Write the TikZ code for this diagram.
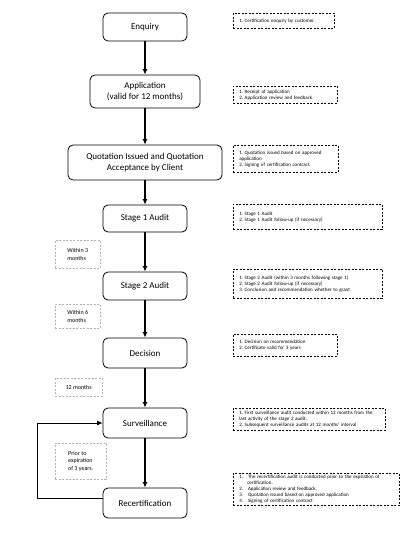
\documentclass[tikz,border=0pt]{standalone}
\usepackage{fontspec}
\setmainfont{Carlito}
\usetikzlibrary{arrows.meta,positioning}

\begin{document}
\begin{tikzpicture}[x=1pt,y=-1pt,>={Latex[length=5.5pt,width=5pt]},
  stage/.style={draw,rounded corners=5pt,line width=0.8pt,align=center,minimum width=84pt,minimum height=28pt,inner sep=1pt,font=\fontsize{9}{11}\selectfont},
  note/.style={draw,dash pattern=on 2pt off 1.5pt,line width=0.5pt,anchor=north west,align=left,inner xsep=6pt,inner ysep=2pt,font=\fontsize{5}{6}\selectfont},
  gap/.style={draw=gray!60,dash pattern=on 2pt off 1.5pt,line width=0.4pt,anchor=north west,align=left,inner sep=2pt,font=\fontsize{6}{7.5}\selectfont},
  flow/.style={->,line width=1.1pt}]
\useasboundingbox (0,0) rectangle (416,534);
% process steps
\node[stage] (enquiry) at (145,27) {Enquiry};
\node[stage,minimum width=110pt,minimum height=33pt] (application) at (145,91.5) {Application\\(valid for 12 months)};
\node[stage,minimum width=154pt,minimum height=35pt] (quotation) at (145,162.5) {Quotation Issued and Quotation\\Acceptance by Client};
\node[stage,minimum height=27pt] (stage1) at (145,218.5) {Stage 1 Audit};
\node[stage] (stage2) at (145,286) {Stage 2 Audit};
\node[stage,minimum height=30pt] (decision) at (145,353) {Decision};
\node[stage,minimum height=30pt] (surveillance) at (145,423) {Surveillance};
\node[stage,minimum height=30pt] (recert) at (145,503) {Recertification};
% notes on the right
\node[note,text width=89pt,minimum height=15pt] (enquirynote) at (233,13) {1.\ Certification enquiry by customer.};
\node[note,text width=92pt,minimum height=17pt] (applicationnote) at (233,86) {1.\ Receipt of application\\2.\ Application review and feedback.};
\node[note,text width=93pt,minimum height=27pt] (quotationnote) at (233,145) {1.\ Quotation issued based on approved\\application\\2.\ Signing of certification contract.};
\node[note,text width=137pt,minimum height=25pt] (stage1note) at (233,204) {1.\ Stage 1 Audit\\2.\ Stage 1 Audit follow-up (if necessary)};
\node[note,text width=137pt,minimum height=29pt] (stage2note) at (233,269) {1.\ Stage 2 Audit (within 3 months following stage 1)\\2.\ Stage 2 Audit follow-up (if necessary)\\3.\ Conclusion and recommendation whether to grant};
\node[note,text width=92pt,minimum height=22pt] (decisionnote) at (233,334) {1.\ Decision on recommendation\\2.\ Certificate valid for 3 years};
\node[note,text width=140pt,minimum height=22pt] (surveillancenote) at (233,408) {1.\ First surveillance audit conducted within 12 months from the\\last activity of the stage 2 audit.\\2.\ Subsequent surveillance audits at 12 months' interval};
\node[note,text width=154pt,minimum height=31pt] (recertnote) at (233,473) {1.\quad The recertification audit is conducted prior to the expiration of\\\hspace*{8pt}certification.\\2.\quad Application review and feedback.\\3.\quad Quotation issued based on approved application\\4.\quad Signing of certification contract};
% time gaps on the left
\node[gap,minimum width=45pt,minimum height=28pt] (gap3) at (55,240) {Within 3\\months};
\node[gap,minimum width=45pt,minimum height=24pt] (gap6) at (55,304) {Within 6\\months};
\node[gap,minimum width=47pt,minimum height=18pt] (gap12) at (55,378) {12 months};
\node[gap,minimum width=51pt,minimum height=36pt] (gapexp) at (55,443) {Prior to\\expiration\\of 3 years.};
% flow
\draw[flow] (enquiry) -- (application);
\draw[flow] (application) -- (quotation);
\draw[flow] (quotation) -- (stage1);
\draw[flow] (stage1) -- (stage2);
\draw[flow] (stage2) -- (decision);
\draw[flow] (decision) -- (surveillance);
\draw[flow] (surveillance) -- (recert);
\draw[->,line width=0.8pt] ([yshift=5pt]recert.west) -- ++(-65,0) |- (surveillance.west);
\end{tikzpicture}
\end{document}
